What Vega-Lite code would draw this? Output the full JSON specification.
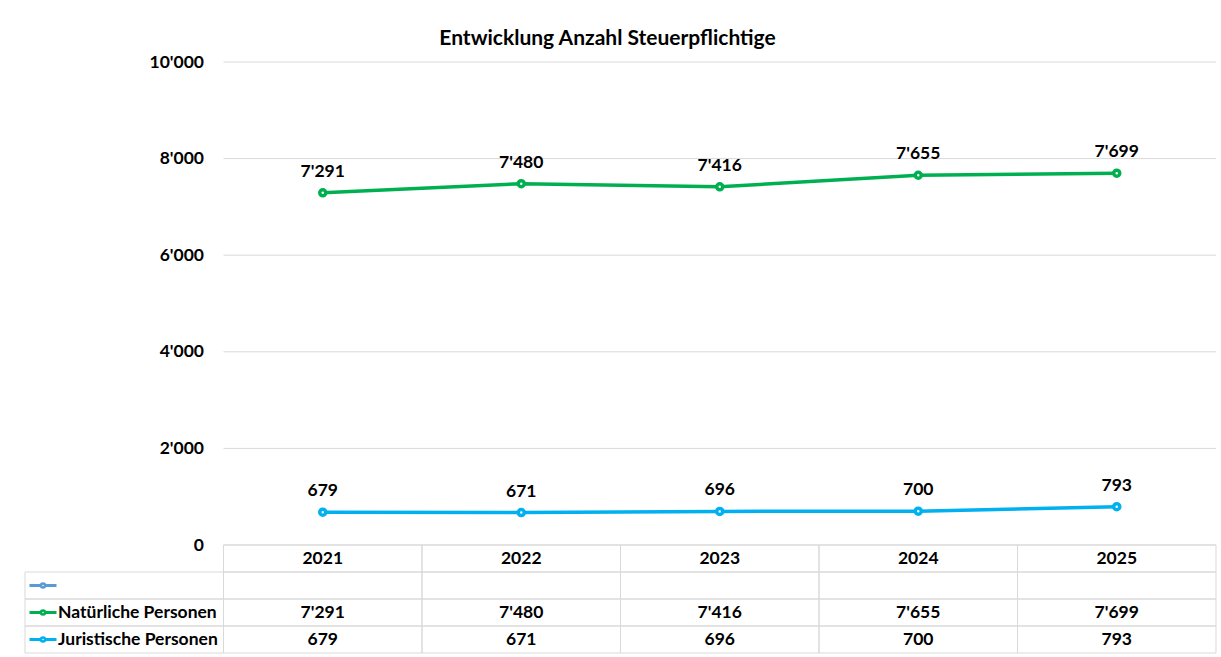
{
  "$schema": "https://vega.github.io/schema/vega-lite/v6.json",
  "padding": {"left": 23, "top": 28, "right": 5, "bottom": 4},
  "background": "white",
  "config": {
    "font": "Lato",
    "view": {"stroke": null},
    "locale": {"number": {"decimal": ".", "thousands": "'", "grouping": [3], "currency": ["", ""]}}
  },
  "datasets": {
    "vals": [
      {"year": "2021", "series": "Natürliche Personen", "value": 7291},
      {"year": "2022", "series": "Natürliche Personen", "value": 7480},
      {"year": "2023", "series": "Natürliche Personen", "value": 7416},
      {"year": "2024", "series": "Natürliche Personen", "value": 7655},
      {"year": "2025", "series": "Natürliche Personen", "value": 7699},
      {"year": "2021", "series": "Juristische Personen", "value": 679},
      {"year": "2022", "series": "Juristische Personen", "value": 671},
      {"year": "2023", "series": "Juristische Personen", "value": 696},
      {"year": "2024", "series": "Juristische Personen", "value": 700},
      {"year": "2025", "series": "Juristische Personen", "value": 793}
    ],
    "grid": [{"g": 0}, {"g": 2000}, {"g": 4000}, {"g": 6000}, {"g": 8000}, {"g": 10000}],
    "series": [{"series": " "}, {"series": "Natürliche Personen"}, {"series": "Juristische Personen"}]
  },
  "spacing": 0,
  "bounds": "flush",
  "vconcat": [
    {
      "width": 1191,
      "height": 483,
      "title": {"text": "Entwicklung Anzahl Steuerpflichtige", "fontSize": 21, "fontWeight": "bold", "color": "#000", "anchor": "middle", "dx": -13, "offset": 4},
      "layer": [
        {
          "data": {"name": "grid"},
          "mark": {"type": "rule", "color": "#d9d9d9", "strokeWidth": 1},
          "encoding": {
            "y": {"field": "g", "type": "quantitative", "scale": {"domain": [0, 10000], "nice": false},
              "axis": {"offset": -198.5, "domain": false, "ticks": false, "grid": false, "title": null, "values": [0, 2000, 4000, 6000, 8000, 10000], "format": ",d", "labelFontSize": 17.5, "labelFontWeight": "bold", "labelColor": "#000", "labelPadding": 20}},
            "x": {"datum": "2021", "type": "nominal", "bandPosition": 0, "scale": {"type": "band", "domain": ["label", "2021", "2022", "2023", "2024", "2025"], "paddingInner": 0, "paddingOuter": 0}, "axis": null},
            "x2": {"datum": "2025", "bandPosition": 1}
          }
        },
        {
          "data": {"name": "vals"},
          "mark": {"type": "line", "strokeWidth": 3.5},
          "encoding": {
            "x": {"field": "year", "type": "nominal", "axis": null},
            "y": {"field": "value", "type": "quantitative"},
            "color": {"field": "series", "type": "nominal", "scale": {"domain": ["Natürliche Personen", "Juristische Personen", " "], "range": ["#00b050", "#00b0f0", "#5b9bd5"]}, "legend": null}
          }
        },
        {
          "data": {"name": "vals"},
          "mark": {"type": "point", "shape": "circle", "filled": false, "fill": "white", "fillOpacity": 1, "opacity": 1, "strokeWidth": 3.5, "size": 36},
          "encoding": {
            "x": {"field": "year", "type": "nominal", "axis": null},
            "y": {"field": "value", "type": "quantitative"},
            "color": {"field": "series", "type": "nominal", "legend": null}
          }
        },
        {
          "data": {"name": "vals"},
          "mark": {"type": "text", "fontSize": 17.5, "fontWeight": "bold", "color": "#000", "baseline": "middle", "dy": -21},
          "encoding": {
            "x": {"field": "year", "type": "nominal", "axis": null},
            "y": {"field": "value", "type": "quantitative"},
            "text": {"field": "value", "type": "quantitative", "format": ",d"}
          }
        }
      ]
    },
    {
      "width": 1191,
      "height": 108,
      "layer": [
        {
          "data": {"name": "vals"},
          "transform": [{"filter": "datum.series === 'Natürliche Personen'"}],
          "mark": {"type": "rect", "fill": "transparent", "stroke": "#d9d9d9", "strokeWidth": 1},
          "encoding": {
            "x": {"field": "year", "type": "nominal", "scale": {"type": "band", "domain": ["label", "2021", "2022", "2023", "2024", "2025"], "paddingInner": 0, "paddingOuter": 0}, "axis": null},
            "y": {"datum": "Jahr", "type": "nominal", "scale": {"type": "band", "domain": ["Jahr", " ", "Natürliche Personen", "Juristische Personen"], "paddingInner": 0, "paddingOuter": 0}, "axis": null}
          }
        },
        {
          "data": {"name": "vals"},
          "transform": [{"filter": "datum.series === 'Natürliche Personen'"}],
          "mark": {"type": "rect", "fill": "transparent", "stroke": "#d9d9d9", "strokeWidth": 1},
          "encoding": {
            "x": {"field": "year", "type": "nominal"},
            "y": {"datum": " ", "type": "nominal"}
          }
        },
        {
          "data": {"name": "vals"},
          "mark": {"type": "rect", "fill": "transparent", "stroke": "#d9d9d9", "strokeWidth": 1},
          "encoding": {
            "x": {"field": "year", "type": "nominal"},
            "y": {"field": "series", "type": "nominal"}
          }
        },
        {
          "data": {"name": "series"},
          "mark": {"type": "rect", "fill": "transparent", "stroke": "#d9d9d9", "strokeWidth": 1},
          "encoding": {
            "x": {"datum": "label", "type": "nominal"},
            "y": {"field": "series", "type": "nominal"}
          }
        },
        {
          "data": {"name": "vals"},
          "transform": [{"filter": "datum.series === 'Natürliche Personen'"}],
          "mark": {"type": "text", "fontSize": 17.5, "fontWeight": "bold", "color": "#000"},
          "encoding": {
            "x": {"field": "year", "type": "nominal"},
            "y": {"datum": "Jahr", "type": "nominal"},
            "text": {"field": "year", "type": "nominal"}
          }
        },
        {
          "data": {"name": "vals"},
          "mark": {"type": "text", "fontSize": 17.5, "fontWeight": "bold", "color": "#000"},
          "encoding": {
            "x": {"field": "year", "type": "nominal"},
            "y": {"field": "series", "type": "nominal"},
            "text": {"field": "value", "type": "quantitative", "format": ",d"}
          }
        },
        {
          "data": {"name": "series"},
          "mark": {"type": "point", "shape": "stroke", "size": 729, "strokeWidth": 3, "filled": false, "opacity": 1, "xOffset": 18},
          "encoding": {
            "x": {"datum": "label", "type": "nominal", "bandPosition": 0},
            "y": {"field": "series", "type": "nominal"},
            "color": {"field": "series", "type": "nominal", "scale": {"domain": ["Natürliche Personen", "Juristische Personen", " "], "range": ["#00b050", "#00b0f0", "#5b9bd5"]}, "legend": null}
          }
        },
        {
          "data": {"name": "series"},
          "mark": {"type": "point", "shape": "circle", "size": 16, "strokeWidth": 2.5, "filled": false, "fill": "white", "fillOpacity": 1, "opacity": 1, "xOffset": 18},
          "encoding": {
            "x": {"datum": "label", "type": "nominal", "bandPosition": 0},
            "y": {"field": "series", "type": "nominal"},
            "color": {"field": "series", "type": "nominal", "legend": null}
          }
        },
        {
          "data": {"name": "series"},
          "mark": {"type": "text", "fontSize": 17.5, "fontWeight": "bold", "color": "#000", "align": "left", "dx": 33},
          "encoding": {
            "x": {"datum": "label", "type": "nominal", "bandPosition": 0},
            "y": {"field": "series", "type": "nominal"},
            "text": {"field": "series", "type": "nominal"}
          }
        }
      ]
    }
  ]
}
